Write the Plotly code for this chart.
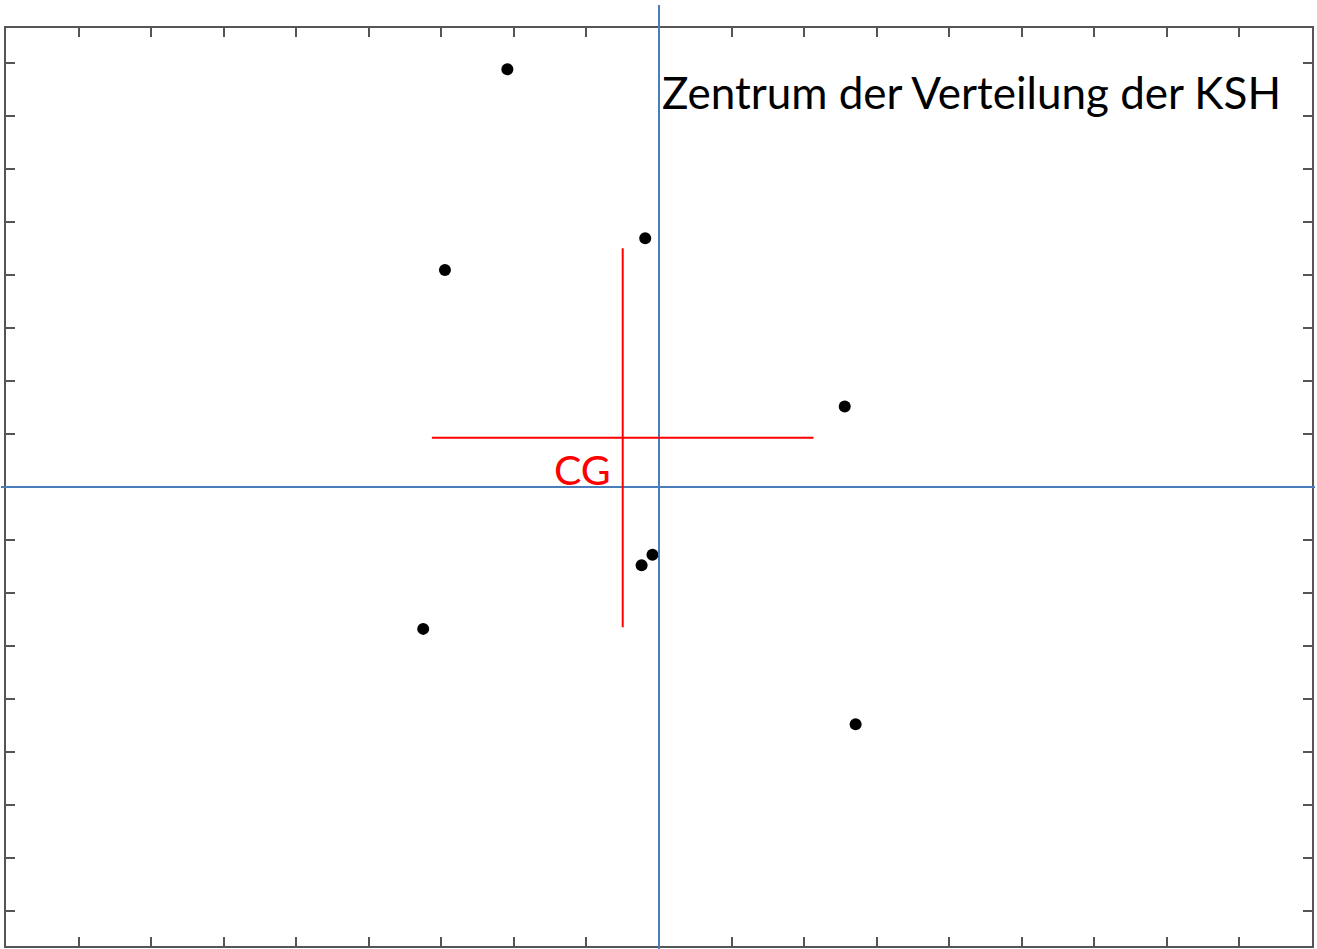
import plotly.graph_objects as go

# Scatter of the KSH positions (relative to the reference axes)
x_pts = [-2.09, -2.95, -0.19, 2.56, -0.09, -0.24, -3.25, 2.71]
y_pts = [7.89, 4.10, 4.70, 1.52, -1.28, -1.48, -2.68, -4.48]

# Centre of gravity and half-extent of its cross
cg_xy = [-0.50, 0.93]
cg_half = [2.63, 3.58]

x_range = [-9.0, 9.0]
y_range = [-8.67, 8.67]
tick_vals = list(range(-8, 9))

title_text = "Zentrum der Verteilung der KSH"
cg_text = "CG"

W, H = 1317, 949
margin = dict(l=6, r=5, t=28, b=3)
plot_w = W - margin["l"] - margin["r"]
plot_h = H - margin["t"] - margin["b"]


def px_x_to_paper(px):
    return (px - margin["l"]) / plot_w


def px_y_to_paper(py):
    return (H - margin["b"] - py) / plot_h


def data_x_to_paper(v):
    return (v - x_range[0]) / (x_range[1] - x_range[0])


def data_y_to_paper(v):
    return (v - y_range[0]) / (y_range[1] - y_range[0])


fig = go.Figure()
fig.add_trace(go.Scatter(
    x=x_pts, y=y_pts, mode="markers",
    marker=dict(color="black", size=12),
    hoverinfo="skip", showlegend=False,
))

blue = "#4a7ebb"
red = "#ff0000"
shapes = [
    # reference axes through the origin, extending past the frame
    dict(type="line", xref="paper", yref="paper",
         x0=data_x_to_paper(0), x1=data_x_to_paper(0),
         y0=px_y_to_paper(H), y1=px_y_to_paper(5),
         line=dict(color=blue, width=2)),
    dict(type="line", xref="paper", yref="paper",
         x0=px_x_to_paper(1), x1=px_x_to_paper(W - 2),
         y0=data_y_to_paper(0), y1=data_y_to_paper(0),
         line=dict(color=blue, width=2)),
    # centre-of-gravity cross
    dict(type="line", xref="x", yref="y",
         x0=cg_xy[0] - cg_half[0], x1=cg_xy[0] + cg_half[0],
         y0=cg_xy[1], y1=cg_xy[1],
         line=dict(color=red, width=2)),
    dict(type="line", xref="x", yref="y",
         x0=cg_xy[0], x1=cg_xy[0],
         y0=cg_xy[1] - cg_half[1], y1=cg_xy[1] + cg_half[1],
         line=dict(color=red, width=2)),
]

annotations = [
    dict(text=title_text, x=0.02, y=7.47, xref="x", yref="y",
         xanchor="left", yanchor="middle", showarrow=False,
         font=dict(family="Lato", size=44, color="black")),
    dict(text=cg_text, x=-1.06, y=0.33, xref="x", yref="y",
         xanchor="center", yanchor="middle", showarrow=False,
         font=dict(family="Lato", size=41, color=red)),
]

axis_common = dict(
    showgrid=False, zeroline=False, showticklabels=False,
    ticks="inside", ticklen=9, tickwidth=1.5, tickcolor="#555555",
    tickvals=tick_vals,
    showline=True, linecolor="#555555", linewidth=2, mirror="ticks",
    fixedrange=True,
)

fig.update_layout(
    width=W, height=H, margin=margin,
    paper_bgcolor="white", plot_bgcolor="white",
    xaxis=dict(range=x_range, **axis_common),
    yaxis=dict(range=y_range, **axis_common),
    shapes=shapes, annotations=annotations,
    showlegend=False,
)

fig.write_html("out.html")
